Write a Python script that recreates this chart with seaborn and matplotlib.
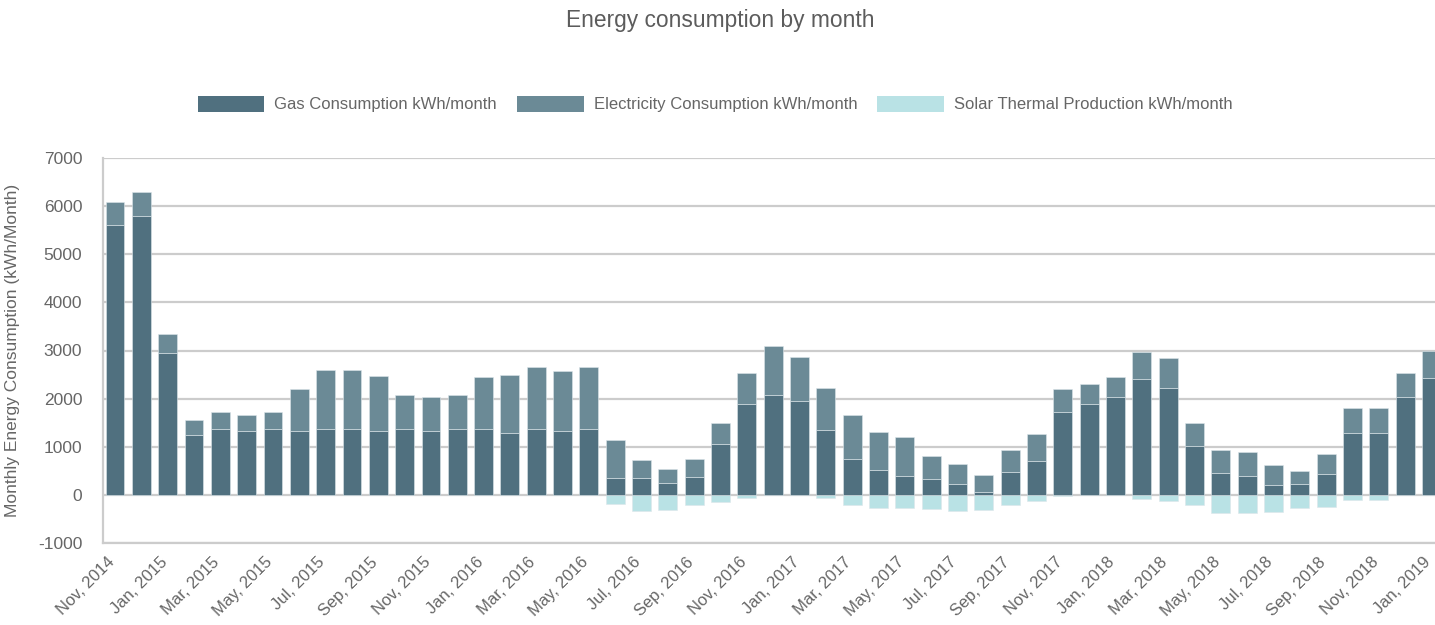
import matplotlib
matplotlib.use("Agg")
import matplotlib.pyplot as plt
import matplotlib.transforms as mtransforms
from matplotlib.patches import Patch
import seaborn as sns
import pandas as pd

months = ["Nov, 2014", "Dec, 2014",
          "Jan, 2015", "Feb, 2015", "Mar, 2015", "Apr, 2015", "May, 2015", "Jun, 2015",
          "Jul, 2015", "Aug, 2015", "Sep, 2015", "Oct, 2015", "Nov, 2015", "Dec, 2015",
          "Jan, 2016", "Feb, 2016", "Mar, 2016", "Apr, 2016", "May, 2016", "Jun, 2016",
          "Jul, 2016", "Aug, 2016", "Sep, 2016", "Oct, 2016", "Nov, 2016", "Dec, 2016",
          "Jan, 2017", "Feb, 2017", "Mar, 2017", "Apr, 2017", "May, 2017", "Jun, 2017",
          "Jul, 2017", "Aug, 2017", "Sep, 2017", "Oct, 2017", "Nov, 2017", "Dec, 2017",
          "Jan, 2018", "Feb, 2018", "Mar, 2018", "Apr, 2018", "May, 2018", "Jun, 2018",
          "Jul, 2018", "Aug, 2018", "Sep, 2018", "Oct, 2018", "Nov, 2018", "Dec, 2018",
          "Jan, 2019"]

gas = [5610, 5790, 2945, 1235, 1365, 1330, 1365, 1330, 1365, 1365, 1330, 1365, 1330, 1365,
       1365, 1280, 1365, 1330, 1365, 360, 360, 255, 380, 1060, 1890, 2065,
       1960, 1350, 750, 515, 400, 320, 230, 50, 470, 705, 1720, 1890,
       2025, 2405, 2230, 1025, 455, 400, 200, 230, 430, 1280, 1280, 2025, 2425]

electricity = [470, 495, 395, 320, 355, 340, 355, 880, 1235, 1235, 1135, 720, 695, 720,
               1090, 1205, 1295, 1250, 1295, 785, 355, 285, 360, 425, 640, 1020,
               900, 865, 915, 790, 800, 490, 420, 360, 465, 550, 490, 415,
               430, 565, 605, 465, 480, 485, 415, 275, 410, 535, 535, 505, 560]

solar = [0, 0, 0, 0, 0, 0, 0, 0, 0, 0, 0, 0, 0, 0,
         0, 0, 0, 0, 0, -195, -345, -305, -210, -150, -55, 0,
         0, -55, -220, -265, -275, -300, -330, -310, -210, -125, -20, 0,
         0, -90, -125, -200, -380, -380, -360, -265, -245, -105, -105, 0, 0]

tick_labels = months[::2]

df = pd.DataFrame({"month": months, "gas": gas, "electricity": electricity, "solar": solar})

sns.set_theme(style="white")
plt.rcParams["font.family"] = ["Liberation Sans", "DejaVu Sans"]

c_gas = "#50707f"
c_elec = "#6b8a96"
c_solar = "#b9e2e5"
text_c = "#666666"
grid_c = "#cccccc"
edge_c = "#dde6ea"

fig = plt.figure(figsize=(14.35, 6.25), dpi=100)
ax = fig.add_axes([103 / 1435, 82 / 625, 1 - 103 / 1435, (543 - 158) / 625])

ax.set_axisbelow(True)
ax.yaxis.grid(True, color=grid_c, linewidth=1.6)

bar_w = 0.72
sns.barplot(data=df, x="month", y="solar", color=c_solar, saturation=1, width=bar_w,
            edgecolor=edge_c, linewidth=0.4, ax=ax, order=months)
sns.barplot(data=df, x="month", y="gas", color=c_gas, saturation=1, width=bar_w,
            edgecolor=edge_c, linewidth=0.4, ax=ax, order=months)
sns.barplot(data=df, x="month", y="electricity", bottom=df["gas"], color=c_elec,
            saturation=1, width=bar_w, edgecolor=edge_c, linewidth=0.4, ax=ax, order=months)

ax.set_ylim(-1000, 7000)
ax.set_yticks(range(-1000, 7001, 1000))
ax.set_yticklabels([str(v) for v in range(-1000, 7001, 1000)], color=text_c, fontsize=12.5)
ax.set_xlim(-0.456, 50.13)
ax.set_xticks(range(0, len(months), 2))
ax.set_xticklabels(tick_labels, rotation=45, ha="right", va="center",
                   rotation_mode="anchor", color=text_c, fontsize=12)
ax.tick_params(axis="x", length=0, pad=12)
ax.tick_params(axis="y", length=14, color=grid_c, width=1.6, pad=1)
shift = mtransforms.ScaledTranslation(-3 / 100, 0, fig.dpi_scale_trans)
for lbl in ax.get_xticklabels():
    lbl.set_transform(lbl.get_transform() + shift)

for s in ["top", "right"]:
    ax.spines[s].set_visible(False)
ax.spines["left"].set_color(grid_c)
ax.spines["left"].set_linewidth(1.6)
ax.spines["bottom"].set_color(grid_c)
ax.spines["bottom"].set_linewidth(1.6)

ax.set_xlabel("")
ax.set_ylabel("Monthly Energy Consumption (kWh/Month)", color=text_c, fontsize=12.5)
ax.yaxis.set_label_coords(-0.062, 0.5)

fig.text(0.502, 1 - 20 / 625, "Energy consumption by month", ha="center", va="center",
         color="#5c5c5c", fontsize=16.4)

handles = [Patch(facecolor=c_gas, edgecolor="none"),
           Patch(facecolor=c_elec, edgecolor="none"),
           Patch(facecolor=c_solar, edgecolor="none")]
labels = ["Gas Consumption kWh/month", "Electricity Consumption kWh/month",
          "Solar Thermal Production kWh/month"]
fig.legend(handles, labels, loc="center", bbox_to_anchor=(715 / 1435, 1 - 104 / 625),
           ncol=3, frameon=False, fontsize=12, labelcolor=text_c,
           handlelength=4.0, handleheight=1.1, handletextpad=0.6, columnspacing=1.2)

fig.savefig("out.png", dpi=100)
